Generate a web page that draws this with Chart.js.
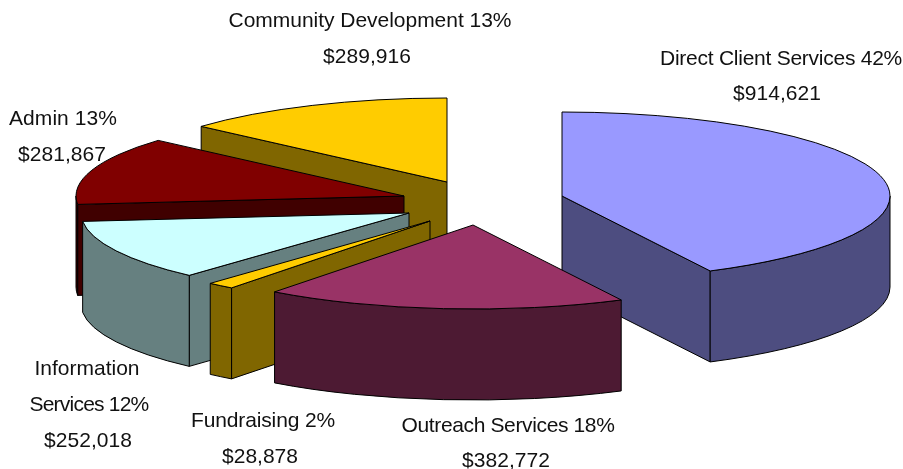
<!DOCTYPE html>
<html>
<head>
<meta charset="utf-8">
<style>html,body{margin:0;padding:0;background:#fff}canvas{display:block}</style>
<script src="https://cdn.jsdelivr.net/npm/chart.js@4/dist/chart.umd.min.js"></script>
</head>
<body>
<canvas id="c" width="903" height="469"></canvas>
<script>
// ---- data ----
const categories = ["Direct Client Services", "Outreach Services", "Fundraising", "Information Services", "Admin", "Community Development"];
const amounts = [914621, 382772, 28878, 252018, 281867, 289916];
const percentLabels = ["42%", "18%", "2%", "12%", "13%", "13%"];

// ---- styles ----
const topColors = ["#9999FF", "#993366", "#FFCC00", "#CCFFFF", "#800000", "#FFCC00"];
const wallColors = ["#4D4D80", "#4D1A33", "#806600", "#668080", "#400000", "#806600"];

// ---- layout of the exploded 3-D view ----
const explodedCentres = [[562, 196], [473, 225], [430, 221], [409, 213], [404, 196], [447, 182]];
const paintOrder = [5, 4, 3, 2, 0, 1];
const view = { rx: 328, ry: 84, depth: 91 };
const labelFont = '21px "Liberation Sans", Arial, sans-serif';
const labelSpots = [
  { lines: [[781, 59], [777, 94]], widths: [242, 88] },
  { lines: [[508, 426], [506, 461]], widths: [213, 88] },
  { lines: [[263, 421], [260, 457]], widths: [144, 76] },
  { lines: [[87, 369], [89, 405], [88, 441]], widths: [105, 119, 88], wrap: ["Information", "Services"] },
  { lines: [[63, 119], [62, 155]], widths: [108, 88] },
  { lines: [[370, 21], [367, 57]], widths: [283, 88] }
];

const money = v => "$" + v.toLocaleString("en-US");

const exploded3D = {
  id: "exploded3D",
  beforeDatasetDraw(chart, args) {
    const ctx = chart.ctx;
    const arcs = chart.getDatasetMeta(args.index).data;
    const { rx, ry, depth } = view;

    paintOrder.forEach(i => {
      const arc = arcs[i];
      const [cx, cy] = explodedCentres[i];
      const s = arc.startAngle, e = arc.endAngle;
      const px = a => cx + rx * Math.cos(a);
      const py = a => cy + ry * Math.sin(a);

      const finish = (fill) => {
        ctx.fillStyle = fill;
        ctx.fill();
        ctx.strokeStyle = "#000";
        ctx.lineWidth = 1;
        ctx.lineJoin = "round";
        ctx.stroke();
      };
      const radialWall = a => {
        ctx.beginPath();
        ctx.moveTo(cx, cy);
        ctx.lineTo(px(a), py(a));
        ctx.lineTo(px(a), py(a) + depth);
        ctx.lineTo(cx, cy + depth);
        ctx.closePath();
        finish(wallColors[i]);
      };

      ctx.save();
      // cut faces turned towards the viewer
      if (Math.cos(s) < -1e-6) radialWall(s);
      if (Math.cos(e) > 1e-6) radialWall(e);

      // curved rim wall, only the front half of the ellipse shows
      const a0 = Math.max(s, 0), a1 = Math.min(e, Math.PI);
      if (a1 > a0) {
        ctx.beginPath();
        ctx.ellipse(cx, cy, rx, ry, 0, a0, a1);
        ctx.lineTo(px(a1), py(a1) + depth);
        ctx.ellipse(cx, cy + depth, rx, ry, 0, a1, a0, true);
        ctx.closePath();
        finish(wallColors[i]);
      }

      // top face: the library's own arc element, flattened into the ellipse
      const R = arc.outerRadius;
      ctx.save();
      ctx.translate(cx, cy);
      ctx.scale(rx / R, ry / R);
      ctx.translate(-arc.x, -arc.y);
      arc.draw(ctx);
      ctx.restore();

      ctx.beginPath();
      ctx.moveTo(cx, cy);
      ctx.ellipse(cx, cy, rx, ry, 0, s, e);
      ctx.closePath();
      ctx.strokeStyle = "#000";
      ctx.lineWidth = 1;
      ctx.lineJoin = "round";
      ctx.stroke();
      ctx.restore();
    });
    return false;
  },
  afterDraw(chart) {
    const ctx = chart.ctx;
    ctx.save();
    ctx.font = labelFont;
    ctx.fillStyle = "#111";
    ctx.textAlign = "center";
    ctx.textBaseline = "middle";
    labelSpots.forEach((spot, i) => {
      const head = spot.wrap
        ? [spot.wrap[0], spot.wrap[1] + " " + percentLabels[i]]
        : [categories[i] + " " + percentLabels[i]];
      const texts = head.concat(money(amounts[i]));
      texts.forEach((t, k) => {
        ctx.letterSpacing = "0px";
        const natural = ctx.measureText(t).width;
        ctx.letterSpacing = ((spot.widths[k] - natural) / t.length).toFixed(3) + "px";
        ctx.fillText(t, spot.lines[k][0], spot.lines[k][1]);
      });
    });
    ctx.restore();
  }
};

new Chart(document.getElementById("c"), {
  type: "pie",
  data: {
    labels: categories,
    datasets: [{ data: amounts, backgroundColor: topColors, borderWidth: 0 }]
  },
  options: {
    responsive: false,
    animation: false,
    devicePixelRatio: 1,
    events: [],
    plugins: { legend: { display: false }, tooltip: { enabled: false } }
  },
  plugins: [exploded3D]
});
</script>
</body>
</html>
